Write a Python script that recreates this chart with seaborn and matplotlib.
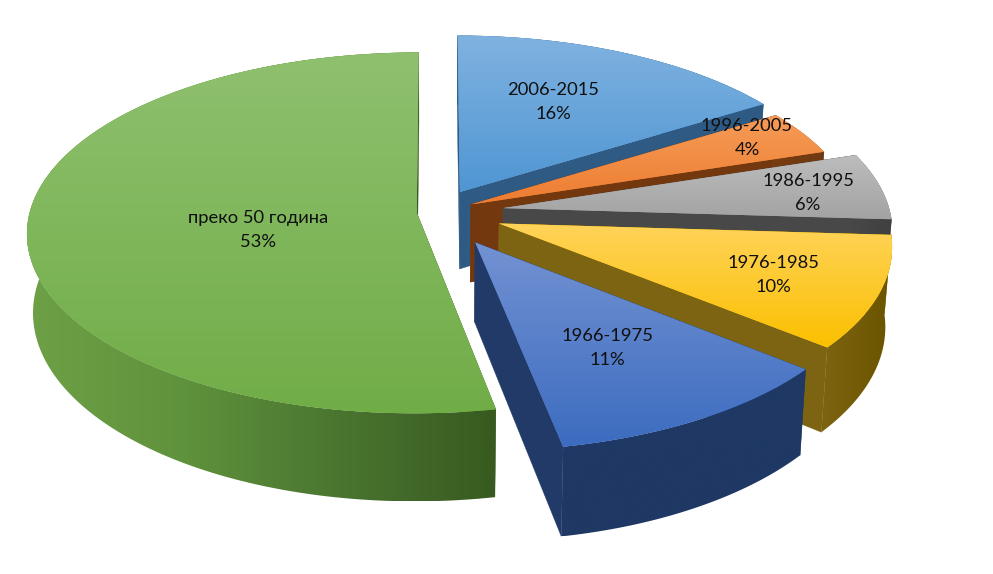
import numpy as np
import matplotlib
matplotlib.use("Agg")
import matplotlib.pyplot as plt
import matplotlib.transforms as mtransforms
from matplotlib.colors import LinearSegmentedColormap, to_rgb
from matplotlib.patches import Polygon
import seaborn as sns

# ---- data -------------------------------------------------------------
categories = ["2006-2015", "1996-2005", "1986-1995", "1976-1985", "1966-1975", "преко 50 година"]
shares = [16, 4, 6, 10, 11, 53]
percent_labels = ["16%", "4%", "6%", "10%", "11%", "53%"]

# ---- styling ----------------------------------------------------------
explode = [0.13, 0.1, 0.175, 0.174, 0.195, 0.05]
label_xy = [(553, 102), (747, 138), (808, 193), (773, 275), (607, 348), (258, 230)]
top_cols = [("#80b2e0", "#4f96d3"), ("#f69c58", "#ed7d31"), ("#bdbdbd", "#a3a3a3"),
            ("#ffd35a", "#fbc000"), ("#7392d2", "#3c6cc0"), ("#8fc06f", "#70ad47")]
wall_cols = [("#2e5a84", "#2e5a84"), ("#7a3c10", "#6d3a12"), ("#484848", "#404040"),
             ("#7d6412", "#6b5400"), ("#1f3864", "#1f3864"), ("#6ea046", "#5f923c", "#4a7530", "#385a20")]
radial_cols = ["#2e5a84", "#74380f", "#484848", "#7d6412", "#223a68", "#385a20"]

sns.set_theme(style="white")
plt.rcParams["font.family"] = ["Lato", "Open Sans", "DejaVu Sans"]

CX, CY, A, B, K = 436.0, 212.0, 387.0, 178.0, 0.111
DEPTH, A2, B2 = 78.0, 0.985, 1.05


class Perspective(mtransforms.Transform):
    """Tilted-disk projection of the unit pie into picture pixels."""
    input_dims = output_dims = 2

    def __init__(self, floor=False):
        super().__init__()
        self.floor = floor

    def transform_non_affine(self, values):
        v = np.asarray(values, float)
        s = 1.0 / (1.0 + K * v[:, 1])
        if self.floor:
            return np.c_[CX + A2 * A * v[:, 0] * s, CY + DEPTH - B2 * B * v[:, 1] * s]
        return np.c_[CX + A * v[:, 0] * s, CY - B * v[:, 1] * s]


fig = plt.figure(figsize=(9.93, 5.74), dpi=100)
ax = fig.add_axes([0, 0, 1, 1])
wedges, _ = ax.pie(shares, explode=explode, startangle=90, counterclock=False, radius=1.0)
ax.set_aspect("auto")
ax.set_xlim(0, 993)
ax.set_ylim(574, 0)
ax.set_autoscale_on(False)
ax.axis("off")

top = Perspective(False)
floor = Perspective(True)


def gradient_fill(colours, clip, extent, vertical, zorder):
    cmap = LinearSegmentedColormap.from_list("g", [to_rgb(c) for c in colours])
    g = np.linspace(0, 1, 256)
    img = g[:, None] if vertical else g[None, :]
    im = ax.imshow(img, cmap=cmap, extent=extent, aspect="auto", origin="upper",
                   zorder=zorder, interpolation="bilinear")
    im.set_clip_path(clip)


z = 1.0
for i, w in enumerate(wedges):
    cx0, cy0 = w.center
    th = np.radians(np.linspace(w.theta1, w.theta2, 160))
    rim = np.c_[cx0 + w.r * np.cos(th), cy0 + w.r * np.sin(th)]
    apex = np.array([[cx0, cy0]])
    rt, rb = top.transform(rim), floor.transform(rim)
    at, ab = top.transform(apex), floor.transform(apex)

    # radial walls
    for e in (0, -1):
        quad = np.vstack([at, rt[e], rb[e], ab])
        ax.add_patch(Polygon(quad, closed=True, fc=radial_cols[i], ec=radial_cols[i], lw=0.3, zorder=z))
    z += 0.1
    # rim wall; the part at the back is covered by the slice's own top face
    poly = np.vstack([rt, rb[::-1]])
    patch = Polygon(poly, closed=True, fc="none", ec="none", zorder=z)
    ax.add_patch(patch)
    gradient_fill(wall_cols[i], patch, (poly[:, 0].min(), poly[:, 0].max(), poly[:, 1].max(), poly[:, 1].min()),
                  False, z)
    z += 0.1
    # top face: the pie wedge itself, drawn through the projection
    w.set_transform(top + ax.transData)
    w.set_facecolor(top_cols[i][1])
    w.set_edgecolor("none")
    w.set_zorder(z)
    outline = np.vstack([at, rt])
    y0, y1 = outline[:, 1].min(), outline[:, 1].max()
    gradient_fill(top_cols[i], w, (outline[:, 0].min(), outline[:, 0].max(), y1, y0), True, z + 0.05)
    z += 0.1

for (x, y), name, pct in zip(label_xy, categories, percent_labels):
    ax.text(x, y, f"{name}\n{pct}", ha="center", va="center", fontsize=13.2, color="#101010",
            linespacing=1.55, zorder=50)

fig.savefig("out.png", dpi=100, facecolor="white")
